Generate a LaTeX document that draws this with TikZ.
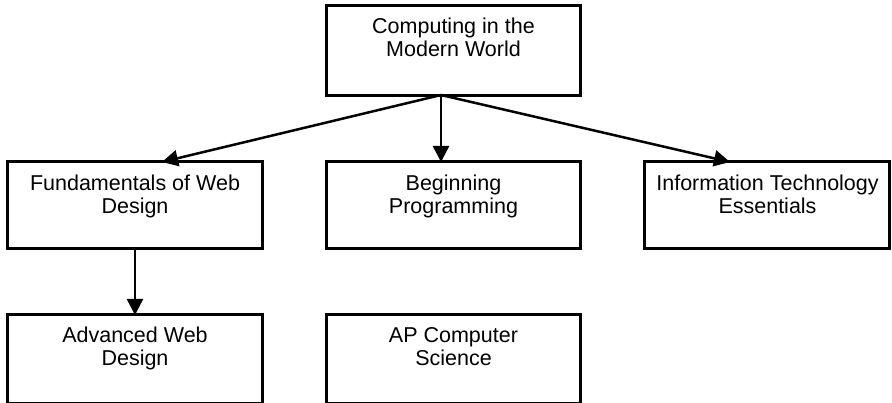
\documentclass[tikz,border=0pt]{standalone}
\usepackage{fontspec}
\setmainfont{Liberation Sans}
\usepackage{tikz}
\usetikzlibrary{matrix,arrows.meta}
\newcommand{\coursetext}[3]{\parbox[c][#2][t]{#1}{\fontsize{21.5pt}{23pt}\selectfont\centering\rule{0pt}{28pt}#3}}

\begin{document}
\begin{tikzpicture}[x=1pt,y=1pt]
  \useasboundingbox (0,0) rectangle (892,-403);
  \matrix (m) [matrix of nodes,anchor=north west,inner sep=0pt,outer sep=0pt,row sep=64pt,column sep=62pt,
    nodes={draw,line width=3pt,inner sep=0pt,outer sep=0pt}] at (6.5,-4.5)
  {
    & \coursetext{253pt}{89pt}{Computing in the\\Modern World} & \\
    \coursetext{254pt}{86pt}{Fundamentals of Web\\Design} &
    \coursetext{253pt}{86pt}{Beginning\\Programming} &
    \coursetext{245pt}{86pt}{Information Technology\\Essentials} \\
    \coursetext{254pt}{89pt}{Advanced Web\\Design} &
    \coursetext{253pt}{89pt}{AP Computer\\Science} & \\ };
  \path[-{Triangle[length=16pt,width=16pt]},line width=2.5pt]
    ([xshift=-12.5pt]m-1-2.south) edge ([xshift=27pt]m-2-1.north)
    ([xshift=-12.5pt]m-1-2.south) edge ([xshift=-12.5pt]m-2-2.north)
    ([xshift=-12.5pt]m-1-2.south) edge ([xshift=-37.5pt]m-2-3.north)
    (m-2-1) edge (m-3-1);
\end{tikzpicture}
\end{document}
